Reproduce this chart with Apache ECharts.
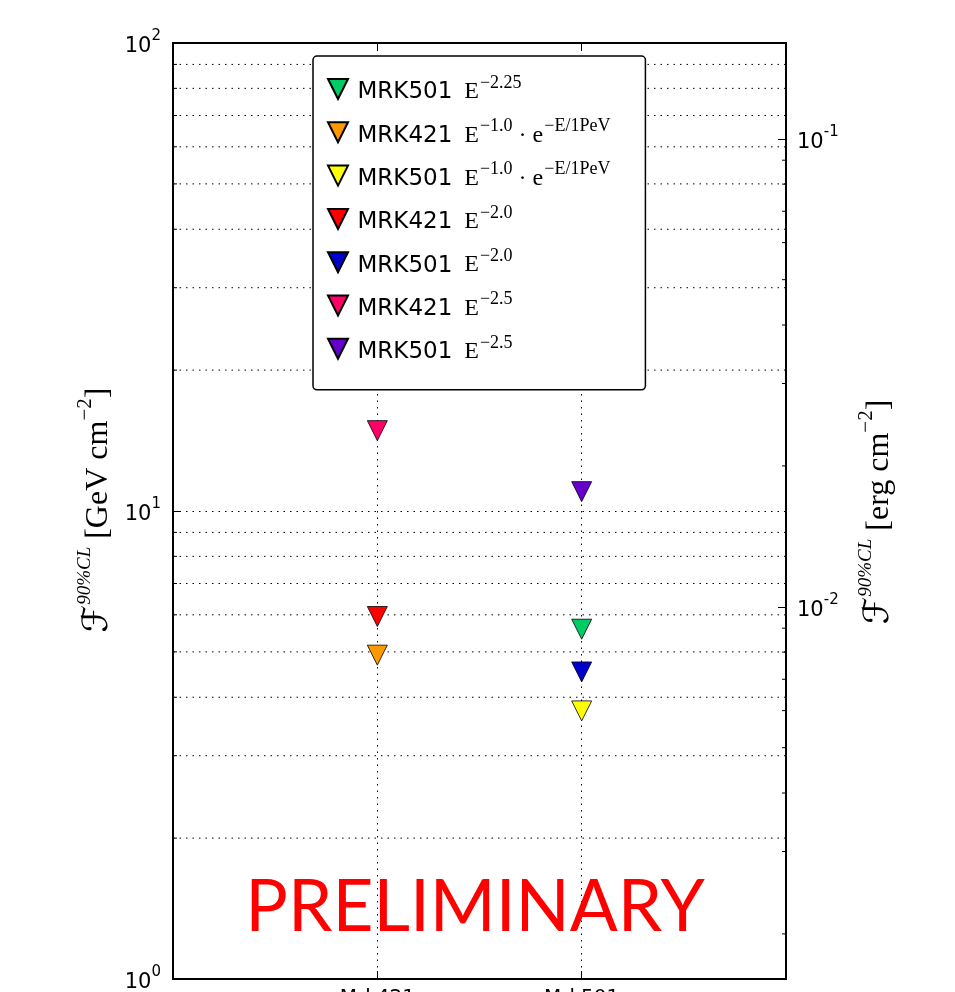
<!DOCTYPE html>
<html><head><meta charset="utf-8">
<script src="https://cdn.jsdelivr.net/npm/echarts@6/dist/echarts.min.js"></script>
<style>html,body{margin:0;padding:0;background:#fff}#c{width:955px;height:992px}</style>
</head><body><div id="c"></div>
<script>
// ---- data ----
const categories = ['Mrk421', 'Mrk501'];
const seriesKeys = ['MRK501 E-2.25', 'MRK421 E-1.0 cutoff', 'MRK501 E-1.0 cutoff', 'MRK421 E-2.0', 'MRK501 E-2.0', 'MRK421 E-2.5', 'MRK501 E-2.5'];
const seriesSources = ['Mrk501', 'Mrk421', 'Mrk501', 'Mrk421', 'Mrk501', 'Mrk421', 'Mrk501'];
const seriesValues = [5.59, 4.92, 3.74, 5.95, 4.53, 14.85, 11.0];
const seriesColors = ['#00cc66', '#ff9900', '#ffff00', '#ff0000', '#0000cc', '#ff0066', '#6600cc'];
const legendSources = ['MRK501', 'MRK421', 'MRK501', 'MRK421', 'MRK501', 'MRK421', 'MRK501'];
const legendIndices = ['−2.25', '−1.0', '−1.0', '−2.0', '−2.0', '−2.5', '−2.5'];
const legendCutoff = [false, true, true, false, false, false, false];
const leftMajorTicks = [1, 10, 100];
const leftTickExponents = ['0', '1', '2'];
const rightMajorTicks = [0.01, 0.1];
const rightTickExponents = ['-2', '-1'];
const leftMinorLevels = [2, 3, 4, 5, 6, 7, 8, 9, 20, 30, 40, 50, 60, 70, 80, 90];
const rightMinorLevels = [0.002, 0.003, 0.004, 0.005, 0.006, 0.007, 0.008, 0.009, 0.02, 0.03, 0.04, 0.05, 0.06, 0.07, 0.08, 0.09];
const yMin = 1, yMax = 100;
const gevToErg = 1.602e-3;

// ---- chart ----
const chart = echarts.init(document.getElementById('c'), null, { renderer: 'canvas' });
const xData = [''].concat(categories, ['']);
const dotted = [1.5, 5];
const tickRich = {
  base: { fontSize: 21, fontFamily: 'DejaVu Sans', fill: '#000', lineHeight: 28, verticalAlign: 'bottom' },
  sup: { fontSize: 15, fontFamily: 'DejaVu Sans', fill: '#000', lineHeight: 14, verticalAlign: 'top' }
};
const legendMap = {};
seriesKeys.forEach((k, i) => {
  let t = '{a|' + legendSources[i] + '}{m|E}{s|' + legendIndices[i] + '}';
  if (legendCutoff[i]) t += '{d|·}{m|e}{s|−E/1PeV}';
  legendMap[k] = t;
});

const series = seriesKeys.map((k, i) => ({
  name: k,
  type: 'scatter',
  xAxisIndex: 0, yAxisIndex: 0,
  symbol: 'path://M0,0 L2,0 L1,2 Z',
  symbolSize: 20,
  z: 5,
  itemStyle: { color: seriesColors[i], borderColor: '#000', borderWidth: 0.8, opacity: 1 },
  data: [[seriesSources[i], seriesValues[i]]]
}));

// minor grid + minor ticks (left axis)
series.push({
  type: 'custom', xAxisIndex: 0, yAxisIndex: 0, silent: true, z: 1,
  data: leftMinorLevels.map(v => [0, v]),
  renderItem(params, api) {
    const y = api.coord([0, api.value(1)])[1];
    const cs = params.coordSys;
    return { type: 'group', children: [
      { type: 'line', shape: { x1: cs.x, y1: y, x2: cs.x + cs.width, y2: y }, style: { stroke: '#000', lineWidth: 1, lineDash: dotted } },
      { type: 'line', shape: { x1: cs.x, y1: y, x2: cs.x + 4, y2: y }, style: { stroke: '#000', lineWidth: 1 } }
    ] };
  }
});
// minor ticks (right axis)
series.push({
  type: 'custom', xAxisIndex: 0, yAxisIndex: 1, silent: true, z: 1,
  data: rightMinorLevels.map(v => [0, v]),
  renderItem(params, api) {
    const y = api.coord([0, api.value(1)])[1];
    const cs = params.coordSys;
    return { type: 'line', shape: { x1: cs.x + cs.width - 4, y1: y, x2: cs.x + cs.width, y2: y }, style: { stroke: '#000', lineWidth: 1 } };
  }
});
// major tick labels (left)
series.push({
  type: 'custom', xAxisIndex: 0, yAxisIndex: 0, silent: true, z: 6, clip: false,
  data: leftMajorTicks.map((v, i) => [0, v, i]),
  renderItem(params, api) {
    const y = api.coord([0, api.value(1)])[1];
    const cs = params.coordSys;
    const e = leftTickExponents[api.value(2)];
    return { type: 'text', x: cs.x - 12, y: y,
      style: { text: '{base|10}{sup|' + e + '}', align: 'right', verticalAlign: 'middle', rich: tickRich } };
  }
});
// major tick labels (right)
series.push({
  type: 'custom', xAxisIndex: 0, yAxisIndex: 1, silent: true, z: 6, clip: false,
  data: rightMajorTicks.map((v, i) => [0, v, i]),
  renderItem(params, api) {
    const y = api.coord([0, api.value(1)])[1];
    const cs = params.coordSys;
    const e = rightTickExponents[api.value(2)];
    return { type: 'text', x: cs.x + cs.width + 11, y: y,
      style: { text: '{base|10}{sup|' + e + '}', align: 'left', verticalAlign: 'middle', rich: tickRich } };
  }
});

const titleRich = {
  f: { fontSize: 35, fontFamily: 'DejaVu Sans', fill: '#000', lineHeight: 40, verticalAlign: 'bottom' },
  s: { fontSize: 19, fontFamily: 'Liberation Serif', fontStyle: 'italic', fill: '#000', lineHeight: 22, verticalAlign: 'top', padding: [0, 8, 0, 0] },
  m: { fontSize: 32, fontFamily: 'Liberation Serif', fill: '#000', lineHeight: 40, verticalAlign: 'bottom' },
  t: { fontSize: 21, fontFamily: 'Liberation Serif', fill: '#000', lineHeight: 22, verticalAlign: 'top' }
};

const option = {
  animation: false,
  backgroundColor: '#fff',
  grid: { left: 173, right: 169, top: 43, bottom: 13, show: false, containLabel: false, outerBoundsMode: 'none' },
  xAxis: [
    { type: 'category', data: xData, boundaryGap: false, position: 'bottom',
      axisLine: { lineStyle: { color: '#000', width: 2 } },
      axisTick: { inside: true, length: 8, interval: 0, lineStyle: { color: '#000', width: 1 } },
      axisLabel: { interval: 0, fontSize: 20, color: '#000', fontFamily: 'DejaVu Sans', margin: 9 },
      splitLine: { show: true, interval: 0, lineStyle: { color: '#000', width: 1, type: dotted } } },
    { type: 'category', data: xData, boundaryGap: false, position: 'top',
      axisLine: { lineStyle: { color: '#000', width: 2 } },
      axisTick: { inside: true, length: 8, interval: 0, lineStyle: { color: '#000', width: 1 } },
      axisLabel: { show: false }, splitLine: { show: false } }
  ],
  yAxis: [
    { type: 'log', logBase: 10, min: yMin, max: yMax, position: 'left',
      axisLine: { show: true, lineStyle: { color: '#000', width: 2 } },
      axisTick: { show: true, inside: true, length: 8, lineStyle: { color: '#000', width: 1 } },
      axisLabel: { show: false },
      splitLine: { show: true, lineStyle: { color: '#000', width: 1, type: dotted } } },
    { type: 'log', logBase: 10, min: yMin * gevToErg, max: yMax * gevToErg, position: 'right',
      axisLine: { show: true, lineStyle: { color: '#000', width: 2 } },
      axisTick: { show: true, inside: true, length: 8, lineStyle: { color: '#000', width: 1 } },
      axisLabel: { show: false },
      splitLine: { show: false } }
  ],
  legend: {
    orient: 'vertical', left: 313, top: 56,
    data: seriesKeys,
    padding: [18, 34, 26, 14],
    itemGap: 13.3,
    itemWidth: 21, itemHeight: 20,
    backgroundColor: '#fff', borderColor: '#000', borderWidth: 1.5, borderRadius: 4,
    selectedMode: false,
    formatter: name => legendMap[name],
    textStyle: {
      rich: {
        a: { fontSize: 23, fontFamily: 'DejaVu Sans', color: '#000', lineHeight: 30, verticalAlign: 'bottom', padding: [0, 12, 0, 4] },
        m: { fontSize: 24, fontFamily: 'Liberation Serif', color: '#000', lineHeight: 30, verticalAlign: 'bottom' },
        d: { fontSize: 24, fontFamily: 'Liberation Serif', color: '#000', lineHeight: 30, verticalAlign: 'bottom', padding: [0, 6, 0, 5] },
        s: { fontSize: 18, fontFamily: 'Liberation Serif', color: '#000', lineHeight: 20, verticalAlign: 'top', padding: [0, 1, 0, 1] }
      }
    }
  },
  graphic: [
    { type: 'text', x: 95, y: 510, rotation: Math.PI / 2, z: 10,
      style: { text: '{f|ℱ}{s|90%CL}{m|[GeV cm}{t|−2}{m|]}', align: 'center', verticalAlign: 'middle', rich: titleRich } },
    { type: 'text', x: 876, y: 512, rotation: Math.PI / 2, z: 10,
      style: { text: '{f|ℱ}{s|90%CL}{m|[erg cm}{t|−2}{m|]}', align: 'center', verticalAlign: 'middle', rich: titleRich } },
    { type: 'text', x: 475, y: 908, z: 10,
      style: { text: 'PRELIMINARY', fontSize: 71, fontFamily: 'Lato', fill: '#ff0000', align: 'center', verticalAlign: 'middle' } }
  ],
  series: series
};
chart.setOption(option);
</script></body></html>
